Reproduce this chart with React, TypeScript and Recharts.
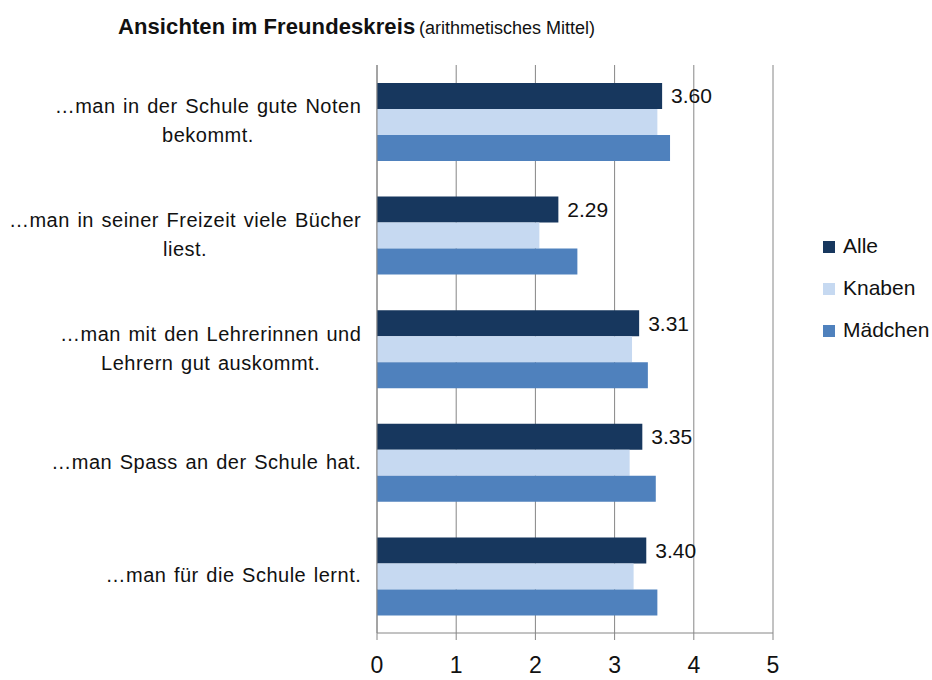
import { BarChart, Bar, XAxis, YAxis, CartesianGrid, LabelList } from 'recharts';

const categories = [
  '…man in der Schule gute Noten\nbekommt.',
  '…man in seiner Freizeit viele Bücher\nliest.',
  '…man mit den Lehrerinnen und\nLehrern gut auskommt.',
  '…man Spass an der Schule hat.',
  '…man für die Schule lernt.',
];
const alle = [3.6, 2.29, 3.31, 3.35, 3.4];
const knaben = [3.54, 2.05, 3.22, 3.19, 3.24];
const maedchen = [3.7, 2.53, 3.42, 3.52, 3.54];
const xTicks = [0, 1, 2, 3, 4, 5];
const boundaryTicks = [0, 1, 2, 3, 4, 5];

const series = [
  { key: 'alle', name: 'Alle', color: '#17375e' },
  { key: 'knaben', name: 'Knaben', color: '#c6d9f1' },
  { key: 'maedchen', name: 'Mädchen', color: '#4f81bd' },
];

const data = categories.map((label, i) => ({
  label,
  alle: alle[i],
  knaben: knaben[i],
  maedchen: maedchen[i],
}));

const FONT = "'Liberation Sans', Arial, Helvetica, sans-serif";
const AXIS_GRAY = '#868686';
const LABEL_SIZE = 20;
const LETTER_SPACING = 0.5;
const WORD_SPACING = 1.5;

let ctx: CanvasRenderingContext2D | null = null;
const measure = (s: string) => {
  if (!ctx) ctx = document.createElement('canvas').getContext('2d');
  if (!ctx) return s.length * LABEL_SIZE * 0.5;
  ctx.font = `${LABEL_SIZE}px ${FONT}`;
  const spaces = (s.match(/ /g) || []).length;
  return ctx.measureText(s).width + spaces * WORD_SPACING + (s.length - 1) * LETTER_SPACING;
};

// multi-line label, lines centred on each other, block right-aligned at x
function CategoryTick(props: any) {
  const { x, y, payload } = props;
  const lines = String(payload.value).split('\n');
  const maxW = Math.max(...lines.map(measure));
  const cx = x - maxW / 2;
  const lh = 29;
  const y0 = y - ((lines.length - 1) * lh) / 2;
  return (
    <text
      textAnchor="middle"
      fontFamily={FONT}
      fontSize={LABEL_SIZE}
      fill="#111"
      style={{ wordSpacing: WORD_SPACING, letterSpacing: LETTER_SPACING }}
    >
      {lines.map((l, i) => (
        <tspan key={i} x={cx} y={y0 + i * lh} dy="0.3em">
          {l}
        </tspan>
      ))}
    </text>
  );
}

export default function App() {
  return (
    <div style={{ position: 'relative', width: 932, height: 680, background: '#fff' }}>
      <style>{'body{margin:0}'}</style>
      <BarChart
        width={932}
        height={680}
        data={data}
        layout="vertical"
        margin={{ top: 65, right: 159, bottom: 0, left: 0 }}
        barGap={0}
      >
        <CartesianGrid
          yAxisId="cat"
          horizontal={false}
          stroke={AXIS_GRAY}
          strokeWidth={1}
        />
        <XAxis
          type="number"
          domain={[0, 5]}
          ticks={xTicks}
          height={47}
          stroke={AXIS_GRAY}
          tickSize={7}
          tickMargin={17}
          tick={{ fontSize: 23, fill: '#111', fontFamily: FONT }}
        />
        <YAxis
          yAxisId="bounds"
          type="number"
          domain={[0, 5]}
          ticks={boundaryTicks}
          width={1}
          tickSize={6}
          stroke={AXIS_GRAY}
          tick={false}
        />
        <YAxis
          yAxisId="cat"
          type="category"
          dataKey="label"
          width={376}
          axisLine={false}
          tickLine={false}
          tickSize={6}
          tickMargin={9}
          interval={0}
          tick={<CategoryTick />}
        />
        {series.map((s) => (
          <Bar
            key={s.key}
            yAxisId="cat"
            dataKey={s.key}
            name={s.name}
            fill={s.color}
            barSize={26}
            isAnimationActive={false}
          >
            {s.key === 'alle' && (
              <LabelList
                dataKey="alle"
                position="right"
                offset={9}
                fontSize={21}
                fontFamily={FONT}
                fill="#111"
                formatter={(v: any) => Number(v).toFixed(2)}
              />
            )}
          </Bar>
        ))}
      </BarChart>
      <svg
        width={932}
        height={680}
        style={{ position: 'absolute', left: 0, top: 0, pointerEvents: 'none' }}
      >
        <text x={118} y={34} fontFamily={FONT} fill="#111">
          <tspan fontWeight="bold" fontSize={22} letterSpacing={0.1}>
            Ansichten im Freundeskreis
          </tspan>
          <tspan x={419} fontSize={18}>
            (arithmetisches Mittel)
          </tspan>
        </text>
        {series.map((s, i) => (
          <g key={s.key} transform={`translate(823, ${241 + i * 42})`}>
            <rect width={12} height={12} fill={s.color} />
            <text x={20} y={12} fontSize={21} fontFamily={FONT} fill="#111">
              {s.name}
            </text>
          </g>
        ))}
      </svg>
    </div>
  );
}
